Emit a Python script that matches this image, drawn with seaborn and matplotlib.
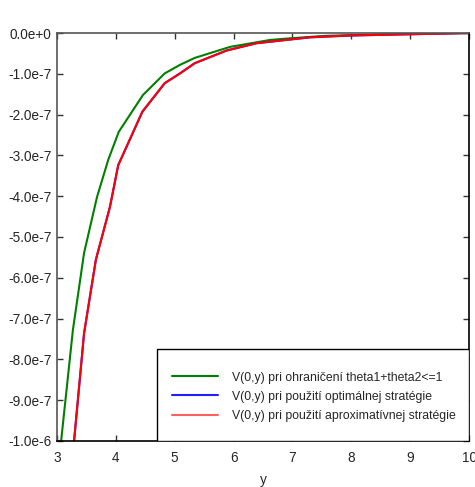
import numpy as np
import pandas as pd
import matplotlib
matplotlib.use("Agg")
import matplotlib.pyplot as plt
from matplotlib.patches import Rectangle
import seaborn as sns

# curve values (x = y-parameter, V in units of 1e-7)
x_constr = [3.07, 3.27, 3.46, 3.68, 3.87, 4.05, 4.46, 4.83, 5.09, 5.34, 5.94, 6.62, 6.96, 7.55, 8.83, 10.0]
v_constr = [-10.0, -7.28, -5.39, -4.02, -3.11, -2.42, -1.52, -0.99, -0.78, -0.61, -0.34, -0.17, -0.13, -0.07, -0.02, 0.0]

x_opt = [3.29, 3.46, 3.66, 3.90, 4.04, 4.45, 4.83, 5.09, 5.34, 5.88, 6.39, 7.30, 8.0, 9.0, 10.0]
v_opt = [-10.0, -7.36, -5.56, -4.26, -3.24, -1.93, -1.23, -0.99, -0.74, -0.43, -0.25, -0.105, -0.06, -0.03, 0.0]

x_approx = [3.29, 3.46, 3.66, 3.90, 4.04, 4.45, 4.83, 5.09, 5.34, 5.88, 6.39, 7.30, 8.0, 9.0, 10.0]
v_approx = [-10.0, -7.36, -5.56, -4.26, -3.24, -1.93, -1.23, -0.99, -0.74, -0.43, -0.25, -0.105, -0.06, -0.03, 0.0]

labels = ["V(0,y) pri ohraničení theta1+theta2<=1",
          "V(0,y) pri použití optimálnej stratégie",
          "V(0,y) pri použití aproximatívnej stratégie"]
colors = ["#008000", "#2020ff", "#ff0000"]

x_ticks = [3, 4, 5, 6, 7, 8, 9, 10]
y_ticks = [0.0, -1e-7, -2e-7, -3e-7, -4e-7, -5e-7, -6e-7, -7e-7, -8e-7, -9e-7, -1e-6]
y_ticklabels = ["0.0e+0", "-1.0e-7", "-2.0e-7", "-3.0e-7", "-4.0e-7", "-5.0e-7",
                "-6.0e-7", "-7.0e-7", "-8.0e-7", "-9.0e-7", "-1.0e-6"]

frames = []
for xs, vs, lab in [(x_constr, v_constr, labels[0]),
                    (x_opt, v_opt, labels[1]),
                    (x_approx, v_approx, labels[2])]:
    frames.append(pd.DataFrame({"y": xs, "V": np.array(vs) * 1e-7, "series": lab}))
df = pd.concat(frames, ignore_index=True)

sns.set_theme(style="ticks")
plt.rcParams['font.family'] = ['Liberation Sans', 'DejaVu Sans']

fig = plt.figure(figsize=(4.75, 4.87), dpi=100)
ax = fig.add_axes([0.12, 0.0945, 0.8674, 0.8377])

sns.lineplot(data=df, x="y", y="V", hue="series", hue_order=labels,
             palette=colors, linewidth=1.5, sort=False, estimator=None, ax=ax)

ax.set_xlim(3, 10)
ax.set_ylim(-1e-6, 0)
ax.set_xticks(x_ticks)
ax.set_xticklabels([str(t) for t in x_ticks])
ax.set_yticks(y_ticks)
ax.set_yticklabels(y_ticklabels)
ax.tick_params(direction='in', top=True, right=True, labelsize=9.8,
               length=4, width=1, color='#333333')
ax.tick_params(axis='x', pad=7)
ax.tick_params(axis='y', pad=4)
ax.set_xlabel("y", fontsize=9.8, labelpad=6)
ax.set_ylabel("")
for side in ['left', 'top']:
    ax.spines[side].set_color('#555555')
for side in ['right', 'bottom']:
    ax.spines[side].set_color('black')
for s in ax.spines.values():
    s.set_linewidth(1.2)

# legend box (fixed size, like the original)
box = Rectangle((0.2427, 0.0), 0.7573, 0.2255, transform=ax.transAxes,
                facecolor='white', edgecolor='black', linewidth=1.0, zorder=5)
ax.add_patch(box)

leg = ax.legend(loc='upper left', bbox_to_anchor=(0.279, 0.170),
                borderaxespad=0, borderpad=0, frameon=False,
                fontsize=8.8, handlelength=3.8,
                labelspacing=0.58, handletextpad=1.15)
leg.set_zorder(6)
leg.get_lines()[2].set_color('#ff6060')

fig.savefig("out.png", dpi=100)
